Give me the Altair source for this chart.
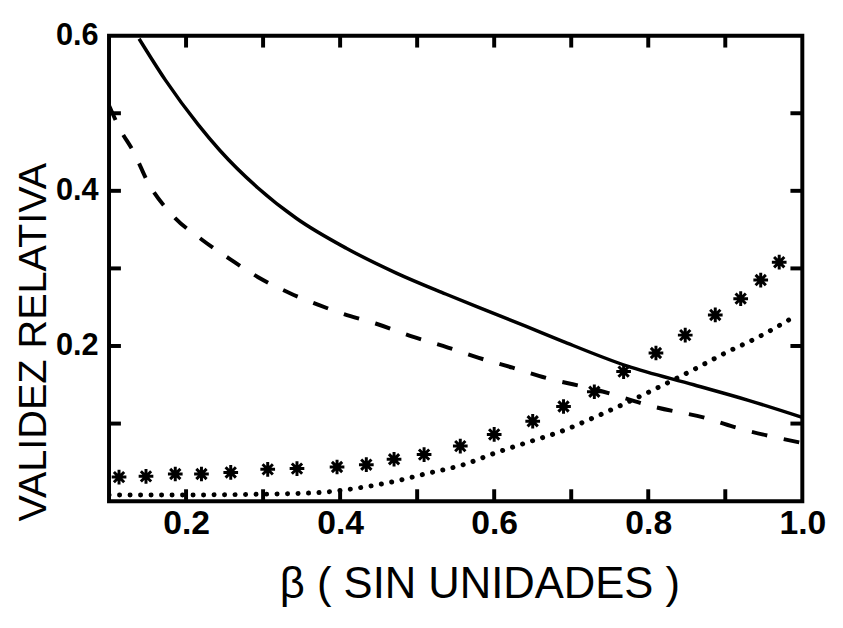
import altair as alt
import pandas as pd

# --- data ---
solid_x = [0.139, 0.173, 0.216, 0.244, 0.293, 0.344, 0.408, 0.473, 0.537, 0.579, 0.64, 0.689, 0.773, 0.859, 0.93, 1.0]
solid_y = [0.596, 0.543, 0.485, 0.452, 0.404, 0.364, 0.326, 0.294, 0.267, 0.25, 0.226, 0.206, 0.174, 0.15, 0.13, 0.108]

dash_x = [0.1, 0.114, 0.132, 0.151, 0.181, 0.222, 0.257, 0.293, 0.335, 0.372, 0.405, 0.446, 0.494, 0.54, 0.579, 0.624, 0.663, 0.735, 0.81, 0.875, 0.91, 1.0]
dash_y = [0.51, 0.48, 0.45, 0.41, 0.37, 0.336, 0.312, 0.289, 0.268, 0.253, 0.241, 0.229, 0.212, 0.198, 0.185, 0.172, 0.16, 0.143, 0.121, 0.107, 0.096, 0.075]

dot_x = [0.1, 0.2, 0.3, 0.37, 0.43, 0.473, 0.51, 0.56, 0.601, 0.644, 0.687, 0.73, 0.772, 0.816, 0.858, 0.9, 0.944, 0.99]
dot_y = [0.008, 0.008, 0.009, 0.011, 0.018, 0.026, 0.035, 0.047, 0.062, 0.076, 0.09, 0.108, 0.127, 0.148, 0.169, 0.191, 0.212, 0.238]

star_x = [0.113, 0.148, 0.186, 0.22, 0.258, 0.306, 0.344, 0.396, 0.434, 0.47, 0.509, 0.556, 0.6, 0.65, 0.69, 0.73, 0.768, 0.81, 0.848, 0.887, 0.92, 0.946, 0.97]
star_y = [0.031, 0.032, 0.035, 0.035, 0.037, 0.041, 0.042, 0.044, 0.047, 0.054, 0.06, 0.071, 0.086, 0.103, 0.122, 0.141, 0.167, 0.191, 0.214, 0.24, 0.261, 0.285, 0.308]

x_ticks = [0.2, 0.3, 0.4, 0.5, 0.6, 0.7, 0.8, 0.9]
y_ticks = [0.1, 0.2, 0.3, 0.4, 0.5]
x_labels = [0.2, 0.4, 0.6, 0.8, 1.0]
y_labels = [0.2, 0.4, 0.6]

W, H = 700, 470
FONT = "Liberation Sans"

xscale = alt.Scale(domain=[0.1, 1.0], nice=False, zero=False)
yscale = alt.Scale(domain=[0, 0.6], nice=False, zero=False)

solid_df = pd.DataFrame({"x": solid_x, "y": solid_y})
dash_df = pd.DataFrame({"x": dash_x, "y": dash_y})
dot_df = pd.DataFrame({"x": dot_x, "y": dot_y})
star_df = pd.DataFrame({"x": star_x, "y": star_y})
xt_df = pd.DataFrame({"x": x_ticks})
yt_df = pd.DataFrame({"y": y_ticks})

x_axis = alt.Axis(
    values=x_labels, format=".1f", ticks=False, tickSize=0, domain=False, grid=False,
    labelFont=FONT, labelFontSize=34, labelFontWeight="bold", labelColor="black",
    labelPadding=6, labelFlush=False,
    title="β ( SIN UNIDADES )", titleFont=FONT, titleFontSize=44, titleFontWeight="normal",
    titleColor="black", titleX=374, titleY=97, titleBaseline="alphabetic", titleAnchor="middle",
)
y_axis = alt.Axis(
    values=y_labels, format=".1f", ticks=False, tickSize=0, domain=False, grid=False,
    labelFont=FONT, labelFontSize=31, labelFontWeight="bold", labelColor="black",
    labelPadding=11, labelFlush=False,
    title="VALIDEZ  RELATIVA", titleFont=FONT, titleFontSize=40, titleFontWeight="normal",
    titleColor="black", titleAngle=270, titleX=-64, titleY=309, titleBaseline="alphabetic",
    titleAnchor="middle",
)

solid = alt.Chart(solid_df).mark_line(color="black", strokeWidth=3.5, interpolate="monotone", clip=True).encode(
    x=alt.X("x:Q", scale=xscale, axis=x_axis),
    y=alt.Y("y:Q", scale=yscale, axis=y_axis),
)
dashed = alt.Chart(dash_df).mark_line(color="black", strokeWidth=4, strokeDash=[16, 17], interpolate="monotone", clip=True).encode(
    x=alt.X("x:Q", scale=xscale), y=alt.Y("y:Q", scale=yscale)
)
dotted = alt.Chart(dot_df).mark_line(color="black", strokeWidth=5, strokeDash=[0.1, 10.5], strokeCap="round", interpolate="monotone", clip=True).encode(
    x=alt.X("x:Q", scale=xscale), y=alt.Y("y:Q", scale=yscale)
)
star_path = "M-1,0L1,0M0,-1L0,1M-0.7,-0.7L0.7,0.7M-0.7,0.7L0.7,-0.7"
stars = alt.Chart(star_df).mark_point(shape=star_path, filled=False, color="black", strokeWidth=3, size=220, opacity=1).encode(
    x=alt.X("x:Q", scale=xscale), y=alt.Y("y:Q", scale=yscale)
)

tick_len = 12
bottom_ticks = alt.Chart(xt_df).mark_rule(color="black", strokeWidth=4).encode(
    x=alt.X("x:Q", scale=xscale), y=alt.value(H), y2=alt.value(H - tick_len)
)
top_ticks = alt.Chart(xt_df).mark_rule(color="black", strokeWidth=4).encode(
    x=alt.X("x:Q", scale=xscale), y=alt.value(0), y2=alt.value(tick_len)
)
left_ticks = alt.Chart(yt_df).mark_rule(color="black", strokeWidth=4).encode(
    y=alt.Y("y:Q", scale=yscale), x=alt.value(0), x2=alt.value(tick_len)
)
right_ticks = alt.Chart(yt_df).mark_rule(color="black", strokeWidth=4).encode(
    y=alt.Y("y:Q", scale=yscale), x=alt.value(W), x2=alt.value(W - tick_len)
)

chart = alt.layer(
    solid, dashed, dotted, stars, bottom_ticks, top_ticks, left_ticks, right_ticks
).properties(
    width=W, height=H,
    autosize=alt.AutoSizeParams(type="none"),
    padding={"left": 102, "top": 25, "right": 33, "bottom": 110},
    background="white",
).configure_view(
    stroke="black", strokeWidth=4
)

chart.save("out.html", embed_options={"renderer": "svg", "actions": False})
